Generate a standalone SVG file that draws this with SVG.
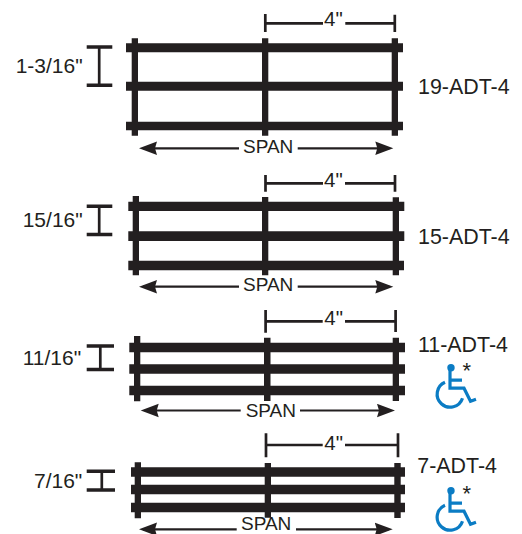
<svg xmlns="http://www.w3.org/2000/svg" width="522" height="534" viewBox="0 0 522 534">
<defs>
<style>
text{font-family:"Liberation Sans",Arial,sans-serif;fill:#231f20;font-size:21px}
text.span{font-size:19px}
text.four{font-size:20.500px}
text.name{font-size:21.400px}
text.star{font-size:22px}
.bar{fill:#231f20}
.arrow{stroke:#231f20;stroke-width:2.200;fill:none}
.dim{stroke:#231f20;stroke-width:2.700;fill:none}
.cap{stroke:#231f20;stroke-width:3.600;fill:none}
.wc{stroke:#0b7cc4;stroke-width:3.200;fill:none}
</style>
<marker id="ah" markerUnits="userSpaceOnUse" markerWidth="19" markerHeight="15" refX="14" refY="7" orient="auto-start-reverse"><path d="M0 0.300L18 7L0 13.700L2 7Z" fill="#231f20"/></marker>
<g id="wc"><circle cx="0" cy="0" r="3.700" fill="#0b7cc4"/><path class="wc" d="M-1 2V20.500H13L19.500 33.500L25 31.500M-1 12.500H11M-6 14.500A13 13 0 1 0 11.500 30.500"/></g>
</defs>
<g id="connectors">
<path class="arrow" marker-start="url(#ah)" d="M143 148.300H239"/>
<path class="arrow" marker-end="url(#ah)" d="M297.700 148.300H389.300"/>
<path class="arrow" marker-start="url(#ah)" d="M143 286.700H239"/>
<path class="arrow" marker-end="url(#ah)" d="M297.700 286.700H389.300"/>
<path class="arrow" marker-start="url(#ah)" d="M144.700 410.500H240.700"/>
<path class="arrow" marker-end="url(#ah)" d="M300 410.500H391"/>
<path class="arrow" marker-start="url(#ah)" d="M143 529.300H236.700"/>
<path class="arrow" marker-end="url(#ah)" d="M296 529.300H388.700"/>
<path class="dim" d="M265.300 23.300H323M345.300 23.300H394.800M265.300 14V32M394.800 14.700V32"/>
<path class="dim" d="M265.500 183.300H323M345 183.300H395M265.500 175V191.700M395 175V191.700"/>
<path class="dim" d="M265.600 321.300H322.700M345 321.300H395.600M265.600 310V332.700M395.600 310V332"/>
<path class="dim" d="M266 445H322.700M345 445H398M266 433.300V457.300M398 433.300V457.300"/>
<path class="dim" d="M99.200 47V85M99.200 206V234.500M100.300 346V369.500M101.800 471V490"/>
<path class="cap" d="M86.700 47H112.300M86.700 85.300H112.300M86.700 206.300H112.300M86.700 234.500H112.300M86.700 346H114M86.700 369.500H114M86.700 471.300H115M86.700 490H115"/>
</g>
<g id="panel-19">
<path class="bar" d="M126 43.300H403V52.300H126ZM126 81.700H403V90.700H126ZM126 121.700H403V130.300H126ZM131.700 38.300H138V135.700H131.700ZM262 38.300H268.300V135.700H262ZM391.700 38.300H398V135.700H391.700Z"/>
<text x="15.700" y="73">1-3/16"</text><text class="four" x="324" y="26">4"</text><text class="span" x="243" y="153">SPAN</text><text class="name" x="418" y="94.300">19-ADT-4</text>
</g>
<g id="panel-15">
<path class="bar" d="M128.300 201.700H404.300V211H128.300ZM128.300 231.300H404.300V241H128.300ZM128.300 260.700H404V270.300H128.300ZM132.700 196H139V275.300H132.700ZM262 197H268.300V275.300H262ZM392.700 197.300H399V275.300H392.700Z"/>
<text x="22.700" y="226.700">15/16"</text><text class="four" x="324" y="187">4"</text><text class="span" x="243" y="290.500">SPAN</text><text class="name" x="418" y="244.300">15-ADT-4</text>
</g>
<g id="panel-11">
<path class="bar" d="M129.300 342.700H405V352.300H129.300ZM129.300 364.300H405V373.700H129.300ZM129.300 385.700H405V395.300H129.300ZM134 336H140.300V401.300H134ZM264 337.700H270.500V401H264ZM392.700 337.700H399V401H392.700Z"/>
<text x="22.700" y="365">11/16"</text><text class="four" x="324.300" y="325">4"</text><text class="span" x="245.700" y="416.700">SPAN</text><text class="name" x="418" y="351.700">11-ADT-4</text>
<use href="#wc" x="451" y="367.700"/><text class="star" x="462.500" y="378">*</text>
</g>
<g id="panel-7">
<path class="bar" d="M131 467.300H405V476.700H131ZM131 484.700H405V494.300H131ZM131 502.700H405V512.300H131ZM134.700 462.300H141V518.300H134.700ZM264.700 463H271V517.700H264.700ZM394.300 463H400.700V518H394.300Z"/>
<text x="34" y="488.300">7/16"</text><text class="four" x="324.300" y="450">4"</text><text class="span" x="241" y="530">SPAN</text><text class="name" x="417.300" y="472.700">7-ADT-4</text>
<use href="#wc" x="451" y="490.700"/><text class="star" x="462.500" y="501">*</text>
</g>
</svg>
